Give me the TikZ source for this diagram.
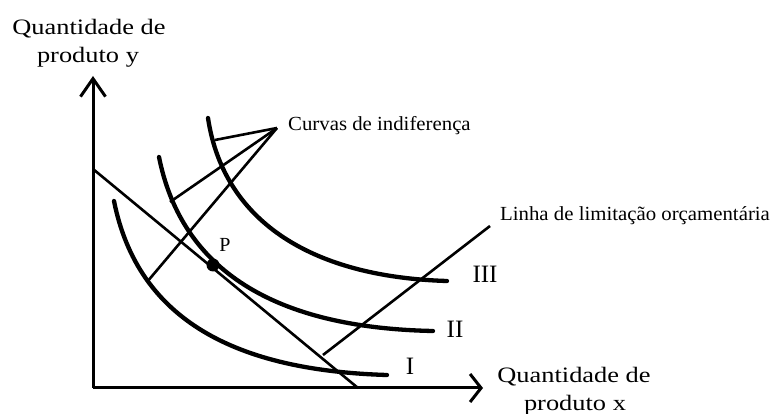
\documentclass[tikz,border=0pt]{standalone}
\usepackage{fontspec}
\setmainfont{Liberation Serif}
\usetikzlibrary{arrows.meta}
\begin{document}
\begin{tikzpicture}[x=1pt,y=-1pt,
  curve/.style={line width=4.3pt, line cap=round},
  axis/.style={line width=3pt},
  pointer/.style={line width=2.6pt},
  biglbl/.style={anchor=base, inner sep=0pt, font=\fontsize{22}{26}\selectfont},
  smalllbl/.style={anchor=base west, inner sep=0pt, font=\fontsize{20}{24}\selectfont},
  roman/.style={anchor=base, inner sep=0pt, font=\fontsize{25}{30}\selectfont}]
\useasboundingbox (0,0) rectangle (772,414);

% axes
\coordinate (O) at (93,388);
\coordinate (Ytip) at (93,76);
\coordinate (Xtip) at (483,388);
\draw[axis, -{Straight Barb[length=18pt,width=25pt,line width=3pt]}] (O) -- (Ytip);
\draw[axis, -{Straight Barb[length=11pt,width=28pt,line width=3pt]}] (O) -- (Xtip);

% budget line
\coordinate (B1) at (93,169);
\coordinate (B2) at (358,388);
\draw[pointer] (B1) -- (B2);

% indifference curves
\coordinate (Is) at (114,201);  \coordinate (Ie) at (387,375);
\coordinate (IIs) at (159,157); \coordinate (IIe) at (433,331);
\coordinate (IIIs) at (208,118); \coordinate (IIIe) at (447,281);
\draw[curve] (Is) .. controls (138,321) and (237,370.5) .. (Ie);
\draw[curve] (IIs) .. controls (180,262) and (263,327.6) .. (IIe);
\draw[curve] (IIIs) .. controls (223,218) and (307,276.8) .. (IIIe);

% point P
\node[circle, fill, inner sep=0pt, minimum size=13pt] (P) at (213,265) {};
\node[anchor=base, inner sep=0pt, font=\fontsize{20}{24}\selectfont] (Plbl) at (225,252) {P};

% pointers for "Curvas de indiferença"
\coordinate (apex) at (277,128);
\coordinate (onIII) at (215,140);
\coordinate (onII) at (170,202);
\coordinate (onI) at (147,282);
\draw[pointer] (onIII) -- (apex);
\draw[pointer] (onII) -- (apex);
\draw[pointer] (onI) -- (apex);
\node[smalllbl] (curvas) at (288,131) {\scalebox{1.04}[1]{Curvas de indiferença}};

% pointer for budget line label
\coordinate (bstart) at (490,226);
\coordinate (bend) at (323,355);
\draw[pointer] (bend) -- (bstart);
\node[smalllbl] (linha) at (500,221) {\scalebox{1.04}[1]{Linha de limitação orçamentária}};

% curve labels
\node[roman] (lIII) at (485,283) {III};
\node[roman] (lII) at (455,338) {II};
\node[roman] (lI) at (410,375) {I};

% axis labels
\node[biglbl] (y1) at (89,35) {\scalebox{1.2}[1]{Quantidade de}};
\node[biglbl] (y2) at (88,63) {\scalebox{1.2}[1]{produto y}};
\node[biglbl] (x1) at (574,382) {\scalebox{1.2}[1]{Quantidade de}};
\node[biglbl] (x2) at (575,410) {\scalebox{1.2}[1]{produto x}};
\end{tikzpicture}
\end{document}
